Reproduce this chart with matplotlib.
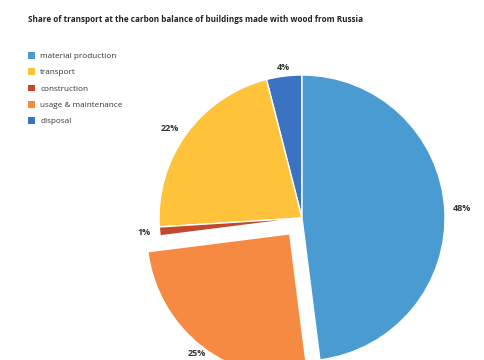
import matplotlib
matplotlib.use("Agg")
import matplotlib.pyplot as plt
from matplotlib.patches import Patch

# legend order
categories = ["material production", "transport", "construction", "usage & maintenance", "disposal"]
shares = [48, 22, 1, 25, 4]
colors = ["#4b9bd3", "#fec33a", "#c1482b", "#f68a42", "#3a73c1"]

# slices are drawn counter-clockwise from the top in this order
draw_order = ["disposal", "transport", "construction", "usage & maintenance", "material production"]
exploded = "usage & maintenance"

plt.rcParams['font.family'] = ['Open Sans', 'DejaVu Sans']

W, H = 485, 360
R = 143
CX, CY = 302, 142
fig = plt.figure(figsize=(W / 100, H / 100), dpi=100)
ax = fig.add_axes([0, 0, 1, 1])

idx = [categories.index(c) for c in draw_order]
vals = [shares[i] for i in idx]
cols = [colors[i] for i in idx]
expl = [0.14 * R if c == exploded else 0 for c in draw_order]
lbls = [f"{v}%" for v in vals]

wedges, texts = ax.pie(vals, colors=cols, explode=expl, labels=lbls,
                       startangle=90, counterclock=True,
                       center=(CX, CY), radius=R, labeldistance=1.06,
                       wedgeprops=dict(edgecolor="white", linewidth=1),
                       textprops=dict(fontsize=6.5, fontweight="bold", color="#333333"))
# pie picks alignment from the absolute x, redo it relative to the centre
for t in texts:
    tx, ty = t.get_position()
    dx, dy = tx - CX, ty - CY
    if abs(dx) < abs(dy):
        t.set_ha("center")
    else:
        t.set_ha("left" if dx > 0 else "right")

ax.set_xlim(0, W)
ax.set_ylim(0, H)
ax.set_aspect("equal")
ax.axis("off")

fig.text(28 / W, 1 - 19 / H, "Share of transport at the carbon balance of buildings made with wood from Russia",
         fontsize=5.9, fontweight="bold", color="#222222", va="center", ha="left")

handles = [Patch(facecolor=c, edgecolor="none") for c in colors]
leg = ax.legend(handles, categories, loc="upper left", bbox_to_anchor=(28 / W, 1 - 52 / H),
                bbox_transform=fig.transFigure, frameon=False, fontsize=5.9,
                handlelength=0.9, handleheight=0.9, handletextpad=0.6,
                labelspacing=0.98, borderpad=0, borderaxespad=0)
for t in leg.get_texts():
    t.set_color("#333333")

fig.savefig("out.png", dpi=100)
